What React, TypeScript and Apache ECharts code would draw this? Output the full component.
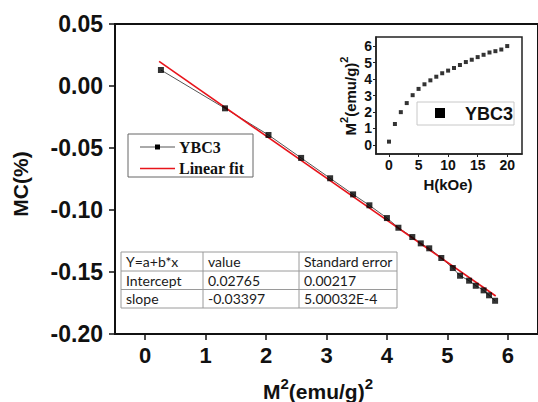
import React, { useEffect, useRef } from "react";
import * as echarts from "echarts";

// Main plot: MC(%) versus M^2
const mainM2 = [0.26, 1.32, 2.04, 2.58, 3.06, 3.44, 3.71, 4.0, 4.19, 4.42, 4.56, 4.7, 4.9, 5.09, 5.21, 5.36, 5.47, 5.6, 5.69, 5.79];
const mainMC = [0.0129, -0.018, -0.0395, -0.058, -0.0744, -0.0874, -0.0962, -0.1065, -0.1143, -0.1218, -0.1269, -0.1309, -0.1387, -0.1468, -0.153, -0.157, -0.1611, -0.1648, -0.1688, -0.1732];

// Linear fit parameters (from the table)
const fitIntercept = 0.02765;
const fitSlope = -0.03397;
const fitXRange = [0.23, 5.8];

// Inset: M^2 versus H
const fieldH = [0, 1, 2, 3, 4, 5, 6, 7, 8, 9, 10, 11, 12, 13, 14, 15, 16, 17, 18, 19, 20];
const insetM2 = [0.2, 1.27, 1.99, 2.54, 3.02, 3.4, 3.68, 3.92, 4.14, 4.35, 4.51, 4.67, 4.85, 5.03, 5.17, 5.33, 5.47, 5.61, 5.69, 5.79, 6.0];

// Ticks
const mainXTicks = [0, 1, 2, 3, 4, 5, 6];
const insetXTicks = [0, 5, 10, 15, 20];
const insetYTicks = [0, 1, 2, 3, 4, 5, 6];

// Legends and table
const legendNames = ["YBC3", "Linear fit"];
const insetLegendName = "YBC3";
const tableRows = [
  ["Y=a+b*x", "value", "Standard error"],
  ["Intercept", "0.02765", "0.00217"],
  ["slope", "-0.03397", "5.00032E-4"],
];

const SANS = "'Liberation Sans', Arial, sans-serif";
const SERIF = "'Liberation Serif', 'Times New Roman', serif";
const TABLE_FONT = "Lato, 'Noto Sans', sans-serif";

export default function App() {
  const ref = useRef<HTMLDivElement>(null);

  useEffect(() => {
    if (!ref.current) return;
    const chart = echarts.init(ref.current, null, { renderer: "svg" });

    const mainData = mainM2.map((x, i) => [x, mainMC[i]]);
    const fitData = fitXRange.map((x) => [x, fitIntercept + fitSlope * x]);
    const insetData = fieldH.map((h, i) => [h, insetM2[i]]);

    // Table graphic
    const tX = [121, 203, 299, 397];
    const tY = [252, 271, 289.5, 308];
    const tableEls: any[] = [
      { type: "rect", shape: { x: tX[0], y: tY[0], width: tX[3] - tX[0], height: tY[3] - tY[0] }, style: { fill: "#fff", stroke: "#9a9a9a", lineWidth: 1 }, z: 10 },
    ];
    [tY[1], tY[2]].forEach((y) =>
      tableEls.push({ type: "line", shape: { x1: tX[0], y1: y, x2: tX[3], y2: y }, style: { stroke: "#9a9a9a", lineWidth: 1 }, z: 11 })
    );
    [tX[1], tX[2]].forEach((x) =>
      tableEls.push({ type: "line", shape: { x1: x, y1: tY[0], x2: x, y2: tY[3] }, style: { stroke: "#9a9a9a", lineWidth: 1 }, z: 11 })
    );
    tableRows.forEach((row, r) => {
      row.forEach((cell, c) => {
        tableEls.push({
          type: "text",
          x: tX[c] + 5,
          y: (tY[r] + tY[r + 1]) / 2,
          style: { text: cell, font: `14px ${TABLE_FONT}`, fill: "#1a1a1a", verticalAlign: "middle", align: "left" },
          z: 12,
        });
      });
    });

    const option: any = {
      animation: false,
      backgroundColor: "#fff",
      grid: [
        { left: 115, top: 24, width: 424, height: 310, show: true, borderColor: "#111", borderWidth: 2, backgroundColor: "transparent" },
        { left: 376, top: 37, width: 146, height: 117, show: true, borderColor: "#222", borderWidth: 1.5, backgroundColor: "#fff" },
      ],
      xAxis: [
        {
          type: "value", gridIndex: 0, min: -0.5, max: 6.5,
          splitLine: { show: false },
          axisLine: { show: true, onZero: false, lineStyle: { color: "#111", width: 2 } },
          axisTick: { show: true, customValues: mainXTicks, length: 6, inside: false, lineStyle: { color: "#111", width: 1.5 } },
          axisLabel: { customValues: mainXTicks, fontSize: 22, fontWeight: "bold", fontFamily: SANS, color: "#111", margin: 10 },
        },
        {
          type: "value", gridIndex: 1, min: -2.2, max: 22.5,
          splitLine: { show: false },
          axisLine: { show: true, onZero: false, lineStyle: { color: "#222", width: 1.5 } },
          axisTick: { show: true, customValues: insetXTicks, length: 3, inside: false, lineStyle: { color: "#222", width: 1 } },
          axisLabel: { customValues: insetXTicks, fontSize: 14, fontWeight: "bold", fontFamily: SANS, color: "#111", margin: 4 },
        },
      ],
      yAxis: [
        {
          type: "value", gridIndex: 0, min: -0.2, max: 0.05, interval: 0.05,
          splitLine: { show: false },
          axisLine: { show: true, onZero: false, lineStyle: { color: "#111", width: 2 } },
          axisTick: { show: true, length: 6, inside: false, lineStyle: { color: "#111", width: 1.5 } },
          axisLabel: {
            fontSize: 23, fontWeight: "bold", fontFamily: SANS, color: "#111", margin: 12,
            formatter: (v: number) => (Math.abs(v) < 1e-9 ? "0.00" : v.toFixed(2)),
          },
        },
        {
          type: "value", gridIndex: 1, min: -0.55, max: 6.55,
          splitLine: { show: false },
          axisLine: { show: true, onZero: false, lineStyle: { color: "#222", width: 1.5 } },
          axisTick: { show: true, customValues: insetYTicks, length: 3, inside: false, lineStyle: { color: "#222", width: 1 } },
          axisLabel: { customValues: insetYTicks, fontSize: 14, fontWeight: "bold", fontFamily: SANS, color: "#111", margin: 4 },
        },
      ],
      series: [
        {
          name: legendNames[0], type: "line", xAxisIndex: 0, yAxisIndex: 0, data: mainData,
          symbol: "none", lineStyle: { color: "#555", width: 1 }, z: 2,
        },
        {
          name: legendNames[1], type: "line", xAxisIndex: 0, yAxisIndex: 0, data: fitData,
          symbol: "none", lineStyle: { color: "#e8141b", width: 1.6 }, z: 3,
        },
        {
          name: legendNames[0] + " points", type: "scatter", xAxisIndex: 0, yAxisIndex: 0, data: mainData,
          symbol: "rect", symbolSize: 6, itemStyle: { color: "#000" }, z: 4,
        },
        {
          name: insetLegendName, type: "scatter", xAxisIndex: 1, yAxisIndex: 1, data: insetData,
          symbol: "rect", symbolSize: 4, itemStyle: { color: "#000" }, z: 4,
        },
      ],
      graphic: [
        // Main Y title
        {
          type: "text", x: 20, y: 184, rotation: Math.PI / 2,
          style: { text: "MC(%)", font: `bold 21px ${SANS}`, fill: "#111", align: "center", verticalAlign: "middle" },
        },
        // Main X title
        {
          type: "text", x: 318, y: 389,
          style: {
            text: "{b|M}{s|2}{b|(emu/g)}{s|2}", align: "center", verticalAlign: "middle",
            rich: {
              b: { font: `bold 21px ${SANS}`, fill: "#111", lineHeight: 26, verticalAlign: "bottom" },
              s: { font: `bold 15px ${SANS}`, fill: "#111", lineHeight: 26, verticalAlign: "top" },
            },
          },
        },
        // Inset Y title
        {
          type: "text", x: 348, y: 96, rotation: Math.PI / 2,
          style: {
            text: "{b|M}{s|2}{b|(emu/g)}{s|2}", align: "center", verticalAlign: "middle",
            rich: {
              b: { font: `bold 15px ${SANS}`, fill: "#111", lineHeight: 19, verticalAlign: "bottom" },
              s: { font: `bold 11px ${SANS}`, fill: "#111", lineHeight: 19, verticalAlign: "top" },
            },
          },
        },
        // Inset X title
        {
          type: "text", x: 448, y: 184,
          style: { text: "H(kOe)", font: `bold 15px ${SANS}`, fill: "#111", align: "center", verticalAlign: "middle" },
        },
        // Inset legend
        { type: "rect", shape: { x: 417, y: 102, width: 97, height: 23 }, style: { fill: "#fff", stroke: "#c8c8c8", lineWidth: 1 }, z: 10 },
        { type: "rect", shape: { x: 435, y: 108, width: 10, height: 10 }, style: { fill: "#000" }, z: 11 },
        {
          type: "text", x: 465, y: 113.5, z: 11,
          style: { text: insetLegendName, font: `bold 18px ${SANS}`, fill: "#111", verticalAlign: "middle" },
        },
        // Main legend
        { type: "rect", shape: { x: 128, y: 134, width: 125, height: 43 }, style: { fill: "#fff", stroke: "#666", lineWidth: 1 }, z: 10 },
        { type: "line", shape: { x1: 140, y1: 147, x2: 175, y2: 147 }, style: { stroke: "#555", lineWidth: 1 }, z: 11 },
        { type: "rect", shape: { x: 155, y: 144.5, width: 5, height: 5 }, style: { fill: "#000" }, z: 12 },
        {
          type: "text", x: 179, y: 147, z: 11,
          style: { text: legendNames[0], font: `bold 16px ${SERIF}`, fill: "#111", verticalAlign: "middle" },
        },
        { type: "line", shape: { x1: 140, y1: 168.5, x2: 175, y2: 168.5 }, style: { stroke: "#e8141b", lineWidth: 1.6 }, z: 11 },
        {
          type: "text", x: 179, y: 168, z: 11,
          style: { text: legendNames[1], font: `bold 16px ${SERIF}`, fill: "#111", verticalAlign: "middle" },
        },
        ...tableEls,
      ],
    };

    chart.setOption(option);
    return () => chart.dispose();
  }, []);

  return <div ref={ref} style={{ position: "fixed", left: 0, top: 0, width: 538, height: 402 }} />;
}
